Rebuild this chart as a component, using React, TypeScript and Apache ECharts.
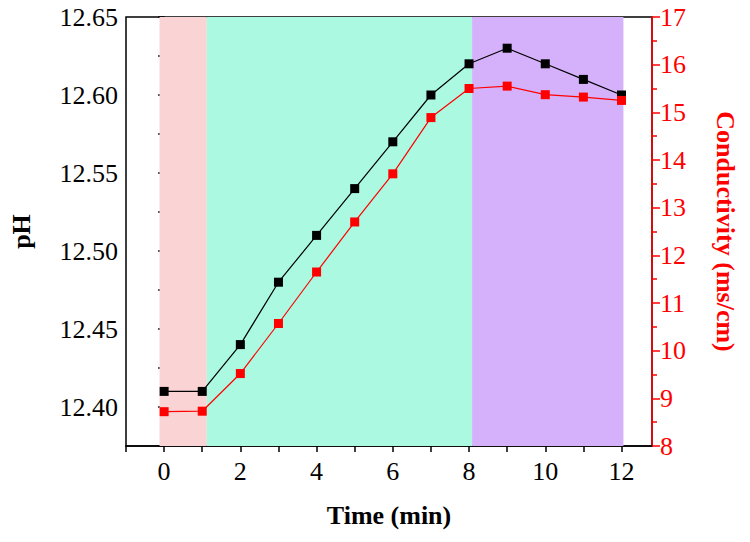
import { useEffect, useRef } from 'react'
import * as echarts from 'echarts'

const times = [0, 1, 2, 3, 4, 5, 6, 7, 8, 9, 10, 11, 12]
const phValues = [12.41, 12.41, 12.44, 12.48, 12.51, 12.54, 12.57, 12.6, 12.62, 12.63, 12.62, 12.61, 12.6]
const conductivityValues = [8.72, 8.73, 9.52, 10.57, 11.65, 12.7, 13.71, 14.89, 15.5, 15.55, 15.37, 15.32, 15.25]
const stages = [
  { from: -0.12, to: 1.12, color: '#fad4d4' },
  { from: 1.12, to: 8.08, color: '#aaf9e0' },
  { from: 8.08, to: 12.05, color: '#d6b1fb' },
]

const font = '"Liberation Serif", "Times New Roman", serif'

export default function App() {
  const chartRef = useRef<HTMLDivElement>(null)

  useEffect(() => {
    document.body.style.margin = '0'
    if (!chartRef.current) return
    const chart = echarts.init(chartRef.current, null, { renderer: 'svg' })

    const option = {
      animation: false,
      textStyle: { fontFamily: font },
      grid: { left: 122, right: 98, top: 17, bottom: 96, show: true, borderColor: '#000', borderWidth: 1.5 },
      xAxis: {
        type: 'value',
        min: -1,
        max: 12.8,
        interval: 1,
        name: 'Time (min)',
        nameLocation: 'middle',
        nameGap: 56,
        nameTextStyle: { fontFamily: font, fontSize: 26, fontWeight: 'bold', color: '#000' },
        splitLine: { show: false },
        axisLine: { lineStyle: { color: '#000', width: 1.5 } },
        axisTick: { length: 6, lineStyle: { color: '#000', width: 1.5 } },
        axisLabel: {
          fontFamily: font,
          fontSize: 26,
          color: '#000',
          margin: 12,
          showMaxLabel: false,
          formatter: (v: number) => (v >= 0 && v % 2 === 0 ? String(v) : ''),
        },
      },
      yAxis: [
        {
          type: 'value',
          min: 12.375,
          max: 12.65,
          interval: 0.025,
          name: 'pH',
          nameLocation: 'middle',
          nameGap: 92,
          nameTextStyle: { fontFamily: font, fontSize: 26, fontWeight: 'bold', color: '#000' },
          splitLine: { show: false },
          axisLine: { show: true, lineStyle: { color: '#000', width: 1.5 } },
          axisTick: { length: 6, lineStyle: { color: '#000', width: 1.5 } },
          axisLabel: {
            fontFamily: font,
            fontSize: 26,
            color: '#000',
            margin: 8,
            formatter: (v: number) => {
              const n = Math.round(v * 1000)
              return n % 50 === 0 ? v.toFixed(2) : ''
            },
          },
        },
        {
          type: 'value',
          min: 8,
          max: 17,
          interval: 1,
          position: 'right',
          name: 'Conductivity (ms/cm)',
          nameLocation: 'middle',
          nameGap: 60,
          nameRotate: -90,
          nameTextStyle: { fontFamily: font, fontSize: 26, fontWeight: 'bold', color: '#ff0000' },
          splitLine: { show: false },
          axisLine: { show: true, lineStyle: { color: '#ff0000', width: 1.5 } },
          axisTick: { length: 8, lineStyle: { color: '#ff0000', width: 1.5 } },
          minorTick: { show: true, splitNumber: 2, length: 5, lineStyle: { color: '#ff0000', width: 1.5 } },
          axisLabel: { fontFamily: font, fontSize: 26, color: '#ff0000', margin: 8 },
        },
      ],
      series: [
        {
          type: 'line',
          yAxisIndex: 0,
          data: times.map((t, i) => [t, phValues[i]]),
          symbol: 'rect',
          symbolSize: 9,
          itemStyle: { color: '#000' },
          lineStyle: { color: '#000', width: 1.2 },
          markArea: {
            silent: true,
            data: stages.map((s) => [
              { xAxis: s.from, itemStyle: { color: s.color, opacity: 1, borderWidth: 0 } },
              { xAxis: s.to },
            ]),
          },
          z: 3,
        },
        {
          type: 'line',
          yAxisIndex: 1,
          data: times.map((t, i) => [t, conductivityValues[i]]),
          symbol: 'rect',
          symbolSize: 9,
          itemStyle: { color: '#ff0000' },
          lineStyle: { color: '#ff0000', width: 1.2 },
          z: 3,
        },
      ],
    }

    chart.setOption(option)
    return () => chart.dispose()
  }, [])

  return <div ref={chartRef} style={{ width: '750px', height: '542px' }} />
}
